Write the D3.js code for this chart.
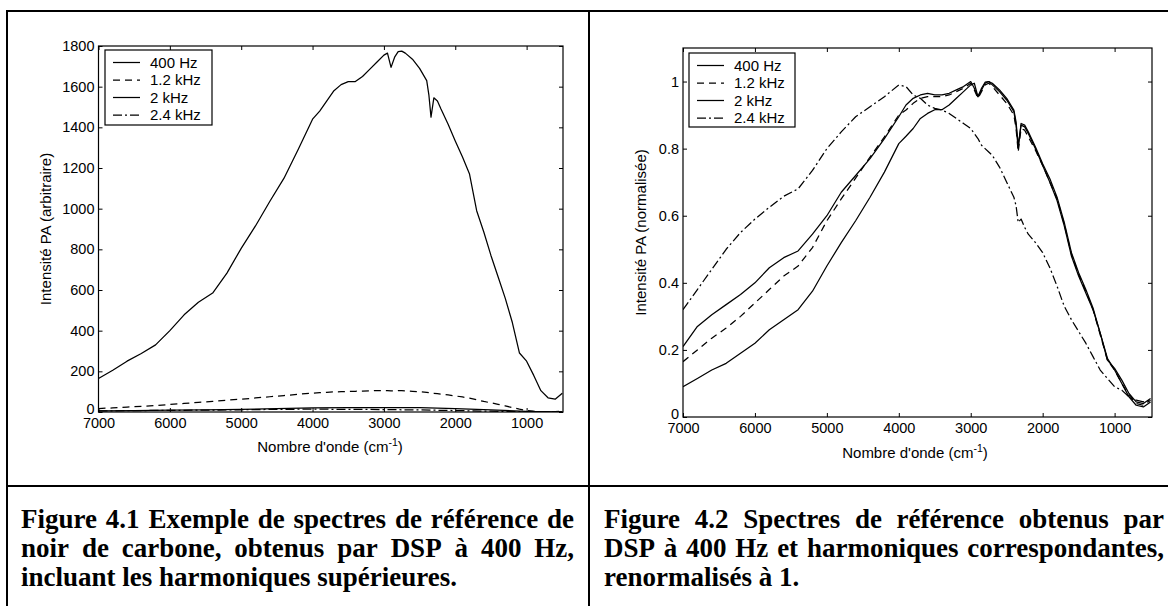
<!DOCTYPE html>
<html><head><meta charset="utf-8">
<script src="https://cdn.jsdelivr.net/npm/d3@7"></script>
<style>body{margin:0;background:#fff} svg{display:block}</style>
</head><body><svg id="c" width="1168" height="606"></svg>
<script>
// ---------- DATA ----------
const wavenumbers = [7000, 6800, 6600, 6400, 6200, 6000, 5800, 5600, 5400, 5200, 5000, 4800, 4600, 4400, 4200, 4000,
  3900, 3800, 3700, 3600, 3500, 3400, 3300, 3200, 3100, 3000,
  2950, 2900, 2850, 2800, 2750, 2700,
  2600, 2500, 2400,
  2370, 2340, 2300, 2250, 2200,
  2100, 2000, 1900, 1800, 1700, 1600, 1500, 1400, 1300, 1200, 1100, 1000, 900, 800, 700, 600, 500];

// Figure 4.1 (arbitrary intensity)
const raw400 = [165, 205, 250, 288, 330, 400, 478, 540, 585, 683, 805, 915, 1035, 1150, 1292, 1440,
  1480, 1530, 1580, 1610, 1625, 1625, 1650, 1685, 1720, 1755,
  1765, 1695, 1745, 1772, 1775, 1765,
  1735, 1690, 1630,
  1560, 1450, 1545, 1530, 1490,
  1415, 1333, 1255, 1170, 990, 885, 770, 665, 560, 440, 290, 250, 180, 105, 70, 63, 92];
const raw1200 = [17, 20, 24, 28, 32, 37, 42, 47, 52, 58, 63, 69, 75, 81, 87, 93,
  95, 97, 99, 100, 101, 102, 103, 104, 105, 105,
  105, 104, 104, 105, 105, 104,
  102, 100, 97,
  95, 92, 92, 90, 88,
  84, 79, 74, 68, 60, 52, 45, 38, 30, 22, 14, 8, 4, 2, 2, 2, 3];
const smallWavenumbers = [7000, 6500, 6000, 5500, 5000, 4500, 4000, 3500, 3000, 2500, 2000, 1500, 1000, 500];
const raw2000 = [5, 7, 9, 11, 13, 16, 20, 21, 22, 21, 17, 10, 3, 1];
const raw2400 = [5, 7, 8, 9, 11, 13, 14, 13, 12, 10, 7, 4, 1, 1];

// Figure 4.2 (normalised)
const norm400 = [0.09, 0.115, 0.14, 0.16, 0.19, 0.22, 0.26, 0.29, 0.32, 0.375, 0.45, 0.52, 0.585, 0.655, 0.73, 0.815,
  0.837, 0.86, 0.89, 0.905, 0.916, 0.916, 0.93, 0.95, 0.97, 0.99,
  0.995, 0.955, 0.98, 0.998, 1.0, 0.995,
  0.975, 0.95, 0.915,
  0.88, 0.81, 0.87, 0.865, 0.845,
  0.80, 0.75, 0.70, 0.645, 0.57, 0.48, 0.42, 0.37, 0.32, 0.25, 0.17, 0.145, 0.11, 0.07, 0.045, 0.04, 0.055];
const norm1200 = [0.165, 0.20, 0.235, 0.265, 0.30, 0.34, 0.38, 0.42, 0.45, 0.505, 0.585, 0.65, 0.712, 0.775, 0.835, 0.90,
  0.915, 0.935, 0.95, 0.955, 0.955, 0.955, 0.96, 0.97, 0.98, 0.995,
  0.975, 0.95, 0.97, 0.99, 0.995, 0.985,
  0.96, 0.935, 0.90,
  0.86, 0.79, 0.86, 0.855, 0.835,
  0.795, 0.75, 0.70, 0.65, 0.575, 0.485, 0.425, 0.375, 0.32, 0.245, 0.17, 0.14, 0.10, 0.065, 0.04, 0.035, 0.05];
const norm2000 = [0.21, 0.27, 0.305, 0.335, 0.365, 0.40, 0.445, 0.475, 0.495, 0.545, 0.60, 0.67, 0.72, 0.77, 0.83, 0.895,
  0.93, 0.95, 0.96, 0.965, 0.96, 0.96, 0.965, 0.975, 0.985, 1.0,
  0.98, 0.955, 0.975, 0.995, 1.0, 0.99,
  0.97, 0.945, 0.91,
  0.87, 0.80, 0.875, 0.87, 0.85,
  0.805, 0.755, 0.71, 0.655, 0.58, 0.49, 0.43, 0.38, 0.325, 0.25, 0.175, 0.14, 0.10, 0.06, 0.035, 0.03, 0.045];
const norm2400 = [0.32, 0.38, 0.44, 0.50, 0.55, 0.59, 0.625, 0.658, 0.68, 0.735, 0.80, 0.85, 0.895, 0.925, 0.955, 0.99,
  0.985, 0.96, 0.95, 0.93, 0.92, 0.915, 0.905, 0.89, 0.875, 0.86,
  0.845, 0.83, 0.81, 0.80, 0.79, 0.78,
  0.745, 0.70, 0.655,
  0.63, 0.58, 0.59, 0.565, 0.545,
  0.52, 0.49, 0.445, 0.39, 0.33, 0.29, 0.255, 0.22, 0.18, 0.14, 0.115, 0.09, 0.08, 0.06, 0.05, 0.045, 0.05];

const seriesNames = ["400 Hz", "1.2 kHz", "2 kHz", "2.4 kHz"];
const xTickValues = [7000, 6000, 5000, 4000, 3000, 2000, 1000];
const yTicksLeft = [0, 200, 400, 600, 800, 1000, 1200, 1400, 1600, 1800];
const yTicksRight = [0, 0.2, 0.4, 0.6, 0.8, 1];
const xLabel = "Nombre d'onde (cm";
const yLabelLeft = "Intensité PA (arbitraire)";
const yLabelRight = "Intensité PA (normalisée)";
const captionLeft = [
  "Figure 4.1 Exemple de spectres de référence de",
  "noir de carbone, obtenus par DSP à 400 Hz,",
  "incluant les harmoniques supérieures."];
const captionRight = [
  "Figure 4.2 Spectres de référence obtenus par",
  "DSP à 400 Hz et harmoniques correspondantes,",
  "renormalisés à 1."];

// ---------- DRAW ----------
const svg = d3.select("#c");
svg.append("rect").attr("width", 1168).attr("height", 606).attr("fill", "#fff");

const dashes = ["none", "7,5", "none", "9,3,2,3"];
const FONT = "'Liberation Sans', Arial, Helvetica, sans-serif";

// table frame
const frame = svg.append("g").attr("stroke", "#000").attr("stroke-width", 2);
frame.append("line").attr("x1", 6).attr("y1", 11).attr("x2", 1168).attr("y2", 11);
frame.append("line").attr("x1", 7).attr("y1", 10).attr("x2", 7).attr("y2", 606);
frame.append("line").attr("x1", 589).attr("y1", 10).attr("x2", 589).attr("y2", 606);
frame.append("line").attr("x1", 6).attr("y1", 486).attr("x2", 1168).attr("y2", 486);

function zip(xs, ys) { return xs.map((w, i) => ({ w, v: ys[i] })); }

function panel(cfg) {
  const x = cfg.x, y = cfg.y;
  const [xa, xb] = x.range();
  const [yb, yt] = y.range();
  const g = svg.append("g");
  const clipId = "clip" + cfg.id;
  svg.append("clipPath").attr("id", clipId).append("rect")
    .attr("x", xa).attr("y", yt).attr("width", xb - xa).attr("height", yb - yt);

  const line = d3.line().x(d => x(d.w)).y(d => y(d.v));
  const lg = g.append("g").attr("clip-path", `url(#${clipId})`);
  cfg.series.forEach((s, i) => {
    lg.append("path").datum(s).attr("d", line)
      .attr("fill", "none").attr("stroke", "#000").attr("stroke-width", 1.25)
      .attr("stroke-dasharray", dashes[i]).attr("stroke-linejoin", "round");
  });

  const style = sel => {
    sel.select(".domain").remove();
    sel.selectAll("text").attr("font-family", FONT).attr("font-size", 14.5).attr("fill", "#000");
    sel.selectAll("line").attr("stroke", "#000");
  };
  g.append("g").attr("transform", `translate(0,${yb})`)
    .call(d3.axisBottom(x).tickValues(xTickValues).tickFormat(d => String(d)).tickSizeInner(-4).tickSizeOuter(0).tickPadding(6)).call(style);
  g.append("g").attr("transform", `translate(0,${yt})`)
    .call(d3.axisTop(x).tickValues(xTickValues).tickFormat("").tickSizeInner(-4).tickSizeOuter(0)).call(style);
  const ya = g.append("g").attr("transform", `translate(${xa},0)`)
    .call(d3.axisLeft(y).tickValues(cfg.yTicks).tickFormat(d => String(d)).tickSizeInner(-4).tickSizeOuter(0).tickPadding(4)).call(style);
  // the "0" label sits just above the "7000" label, as in the original
  ya.selectAll(".tick").filter(d => d === 0).select("text").attr("dy", "0.12em");
  g.append("g").attr("transform", `translate(${xb},0)`)
    .call(d3.axisRight(y).tickValues(cfg.yTicks).tickFormat("").tickSizeInner(-4).tickSizeOuter(0)).call(style);
  g.append("rect").attr("x", xa).attr("y", yt).attr("width", xb - xa).attr("height", yb - yt)
    .attr("fill", "none").attr("stroke", "#000").attr("stroke-width", 1.2);

  // x label
  const xl = g.append("text").attr("x", cfg.xLabelX).attr("y", cfg.xLabelY)
    .attr("text-anchor", "middle").attr("font-family", FONT).attr("font-size", 15);
  xl.append("tspan").text(xLabel);
  xl.append("tspan").attr("dy", -6).attr("font-size", 10.5).text("-1");
  xl.append("tspan").attr("dy", 6).text(")");
  // y label
  g.append("text").attr("transform", `translate(${cfg.yLabelX},${(yb + yt) / 2}) rotate(-90)`)
    .attr("text-anchor", "middle").attr("dy", "0.35em")
    .attr("font-family", FONT).attr("font-size", 15).text(cfg.yLabel);

  // legend
  const L = cfg.legend;
  const leg = g.append("g").attr("transform", `translate(${L.x},${L.y})`);
  leg.append("rect").attr("width", L.w).attr("height", L.h).attr("fill", "#fff")
    .attr("stroke", "#000").attr("stroke-width", 1.2);
  seriesNames.forEach((name, i) => {
    const cy = 12.5 + i * 17.5;
    leg.append("line").attr("x1", 8).attr("x2", 35).attr("y1", cy).attr("y2", cy)
      .attr("stroke", "#000").attr("stroke-width", 1.25).attr("stroke-dasharray", dashes[i]);
    leg.append("text").attr("x", 45).attr("y", cy).attr("dy", "0.36em")
      .attr("font-family", FONT).attr("font-size", 15).text(name);
  });
}

panel({
  id: "L",
  x: d3.scaleLinear().domain([7000, 490]).range([98.5, 563]),
  y: d3.scaleLinear().domain([0, 1800]).range([412, 46]),
  yTicks: yTicksLeft,
  series: [zip(wavenumbers, raw400), zip(wavenumbers, raw1200), zip(smallWavenumbers, raw2000), zip(smallWavenumbers, raw2400)],
  xLabelX: 330, xLabelY: 452, yLabelX: 46, yLabel: yLabelLeft,
  legend: { x: 105, y: 50, w: 107, h: 75 }
});
panel({
  id: "R",
  x: d3.scaleLinear().domain([7000, 480]).range([683, 1152]),
  y: d3.scaleLinear().domain([0, 1.1]).range([417, 48]),
  yTicks: yTicksRight,
  series: [zip(wavenumbers, norm400), zip(wavenumbers, norm1200), zip(wavenumbers, norm2000), zip(wavenumbers, norm2400)],
  xLabelX: 915, xLabelY: 458, yLabelX: 641, yLabel: yLabelRight,
  legend: { x: 689, y: 53, w: 106, h: 74 }
});

// captions (justified)
function caption(lines, x0, x1, base0) {
  const g = svg.append("g").attr("font-family", "'Liberation Serif', 'Times New Roman', serif")
    .attr("font-weight", "bold").attr("font-size", 27).attr("fill", "#000");
  lines.forEach((ln, i) => {
    const words = ln.split(" ");
    const by = base0 + i * 29;
    const ts = words.map(w => g.append("text").attr("y", by).text(w));
    const widths = ts.map(t => t.node().getComputedTextLength());
    const total = d3.sum(widths);
    const justify = i < lines.length - 1;
    const gap = justify ? (x1 - x0 - total) / (words.length - 1) : 6.75;
    let cx = x0;
    ts.forEach((t, j) => { t.attr("x", cx); cx += widths[j] + gap; });
  });
}
caption(captionLeft, 21, 574, 528);
caption(captionRight, 604, 1164, 528);
</script></body></html>
